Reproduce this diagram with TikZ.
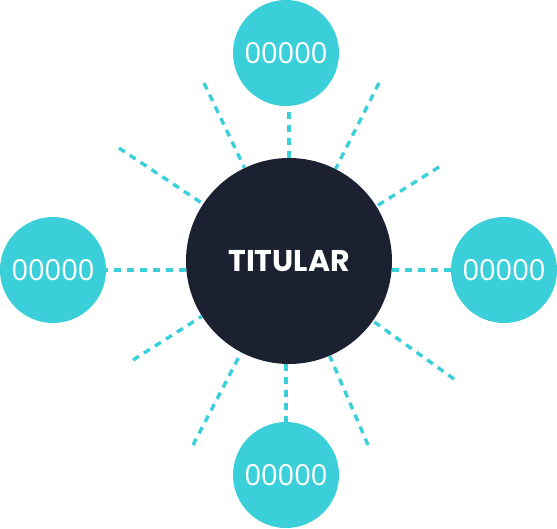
\documentclass[tikz,border=0pt]{standalone}
\usepackage{fontspec}
\newfontfamily\headfont{Poppins}
\newfontfamily\numfont{Open Sans}
\definecolor{leafteal}{HTML}{3BD0D9}
\definecolor{hubnavy}{HTML}{1B2130}
\begin{document}
\begin{tikzpicture}[x=1pt, y=-1pt,
  hub/.style={circle, fill=hubnavy, minimum size=206pt, inner sep=0pt,
    text=white, font=\headfont\bfseries\fontsize{30}{30}\selectfont},
  leaf/.style={circle, fill=leafteal, minimum size=106pt, inner sep=0pt,
    text=white, font=\numfont\fontsize{29}{29}\selectfont},
  spoke/.style={leafteal, line width=3.4pt, dash pattern=on 7pt off 6pt}]
  \useasboundingbox (0,0) rectangle (557,528);

  % circles
  \node[hub] (hub) at (289,261) {TITULAR};
  \node[leaf] (north) at (286,53) {00000};
  \node[leaf] (south) at (286,475) {00000};
  \node[leaf] (west) at (53,270) {00000};
  \node[leaf] (east) at (504,270) {00000};

  % free ends of the short rays
  \coordinate (nw) at (204,83);
  \coordinate (ne) at (379,83);
  \coordinate (wn) at (119,148);
  \coordinate (ws) at (133,360);
  \coordinate (en) at (439,167);
  \coordinate (es) at (454,379);
  \coordinate (sw) at (193,445);
  \coordinate (se) at (368,445);

  % rays to the leaves
  \draw[spoke] (hub.north) -- (hub.north |- north.south);
  \draw[spoke] (south.north |- hub.south) -- (south.north);
  \draw[spoke] (hub.west |- west) -- (west);
  \draw[spoke] (hub.east |- east) -- (east);

  % short rays
  \foreach \e in {nw,ne,wn,ws,en,es,sw,se}
    \draw[spoke] (\e) -- (hub);
\end{tikzpicture}
\end{document}
